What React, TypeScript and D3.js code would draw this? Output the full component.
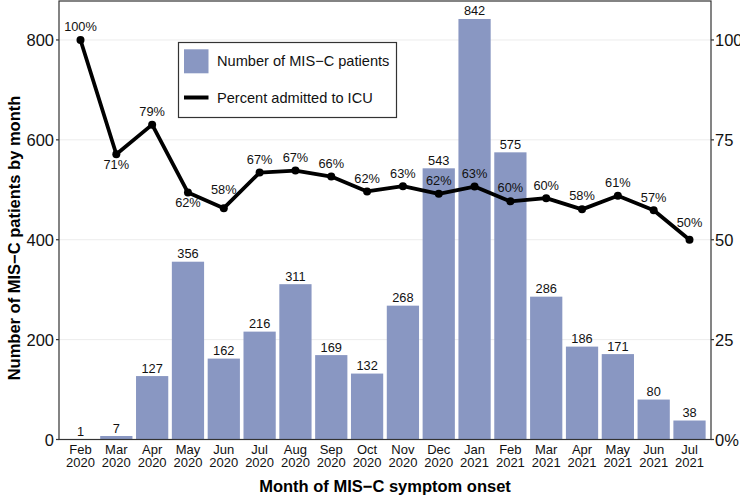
import React from "react";
import * as d3 from "d3";

const months = ["Feb","Mar","Apr","May","Jun","Jul","Aug","Sep","Oct","Nov","Dec","Jan","Feb","Mar","Apr","May","Jun","Jul"];
const years = ["2020","2020","2020","2020","2020","2020","2020","2020","2020","2020","2020","2021","2021","2021","2021","2021","2021","2021"];
const patientCounts = [1,7,127,356,162,216,311,169,132,268,543,842,575,286,186,171,80,38];
const icuPercent = [100,71.4,78.8,61.8,57.9,66.8,67.3,65.8,62.1,63.4,61.5,63.3,59.6,60.4,57.6,61.0,57.4,50.0];
const icuLabels = ["100%","71%","79%","62%","58%","67%","67%","66%","62%","63%","62%","63%","60%","60%","58%","61%","57%","50%"];
const leftTicks = [0,200,400,600,800];
const rightTicks = [0,25,50,75,100];
const rightTickLabels = ["0%","25","50","75","100"];

const W = 740, H = 495;
const FONT = "'Liberation Sans', Arial, Helvetica, sans-serif";
const BAR = "#8997c2";
const LABEL_DY = [-13,10,-13,10,-19,-13,-13,-13,-13,-13,-13,-13,-14,-13,-14,-13,-13,-17.5];

export default function App() {
  const left = 59, right = 711, top = 1, bottom = 439.5;
  const idx = months.map((_, i) => i);
  const x = d3.scaleBand<number>().domain(idx).range([left, right]).paddingInner(0.1).paddingOuter(0.15);
  const y = d3.scaleLinear().domain([0, 878]).range([bottom, top]);
  const yR = d3.scaleLinear().domain([0, 878 / 8]).range([bottom, top]);
  const cx = (i: number) => (x(i) as number) + x.bandwidth() / 2;
  const line = d3.line<number>().x((_, i) => cx(i)).y((d) => yR(d));

  return (
    <svg width={W} height={H} style={{ position: "absolute", left: 0, top: 0, background: "#fff" }} fontFamily={FONT}>
      <rect x={0} y={0} width={W} height={H} fill="#fff" />
      {leftTicks.filter((t) => t > 0).map((t) => (
        <line key={t} x1={left} x2={right} y1={y(t)} y2={y(t)} stroke="#ececec" strokeWidth={1} />
      ))}
      {patientCounts.map((c, i) => (
        <rect key={i} x={x(i)} y={y(c)} width={x.bandwidth()} height={bottom - y(c)} fill={BAR} />
      ))}
      {patientCounts.map((c, i) => (
        <text key={i} x={cx(i)} y={y(c) - 8} textAnchor="middle" dominantBaseline="central" fontSize={12.8} fill="#111">{c}</text>
      ))}
      <path d={line(icuPercent) || ""} fill="none" stroke="#000" strokeWidth={3.8} strokeLinejoin="round" />
      {icuPercent.map((p, i) => (
        <circle key={i} cx={cx(i)} cy={yR(p)} r={4} fill="#000" />
      ))}
      {icuPercent.map((p, i) => (
        <text key={i} x={cx(i)} y={yR(p) + LABEL_DY[i]} textAnchor="middle" dominantBaseline="central" fontSize={12.8} fill="#111">{icuLabels[i]}</text>
      ))}
      <rect x={left} y={top} width={right - left} height={bottom - top} fill="none" stroke="#333" strokeWidth={1.2} />
      {leftTicks.map((t) => (
        <g key={t}>
          <line x1={left - 3} x2={left} y1={y(t)} y2={y(t)} stroke="#333" strokeWidth={1.2} />
          <text x={left - 5} y={y(t)} textAnchor="end" dominantBaseline="central" fontSize={16.5} fill="#111">{t}</text>
        </g>
      ))}
      {rightTicks.map((t, i) => (
        <g key={t}>
          <line x1={right} x2={right + 3} y1={yR(t)} y2={yR(t)} stroke="#333" strokeWidth={1.2} />
          <text x={right + 4} y={yR(t)} textAnchor="start" dominantBaseline="central" fontSize={16.5} fill="#111">{rightTickLabels[i]}</text>
        </g>
      ))}
      {months.map((m, i) => (
        <text key={i} x={cx(i)} textAnchor="middle" fontSize={13} fill="#111">
          <tspan x={cx(i)} y={453.8}>{m}</tspan>
          <tspan x={cx(i)} y={467.3}>{years[i]}</tspan>
        </text>
      ))}
      <text x={(left + right) / 2} y={492.3} textAnchor="middle" fontSize={16.5} fontWeight="bold" fill="#000">Month of MIS−C symptom onset</text>
      <text transform={`translate(20,238) rotate(-90)`} textAnchor="middle" fontSize={16.5} fontWeight="bold" fill="#000">Number of MIS−C patients by month</text>
      <g>
        <rect x={178.5} y={42.5} width={218} height={75} fill="#fff" stroke="#333" strokeWidth={1.2} />
        <rect x={184} y={49.3} width={24.5} height={24} fill={BAR} />
        <line x1={184} x2={208.5} y1={97.5} y2={97.5} stroke="#000" strokeWidth={4} />
        <text x={217} y={61.3} dominantBaseline="central" fontSize={14.6} fill="#111">Number of MIS−C patients</text>
        <text x={217} y={97.8} dominantBaseline="central" fontSize={14.6} fill="#111">Percent admitted to ICU</text>
      </g>
    </svg>
  );
}
